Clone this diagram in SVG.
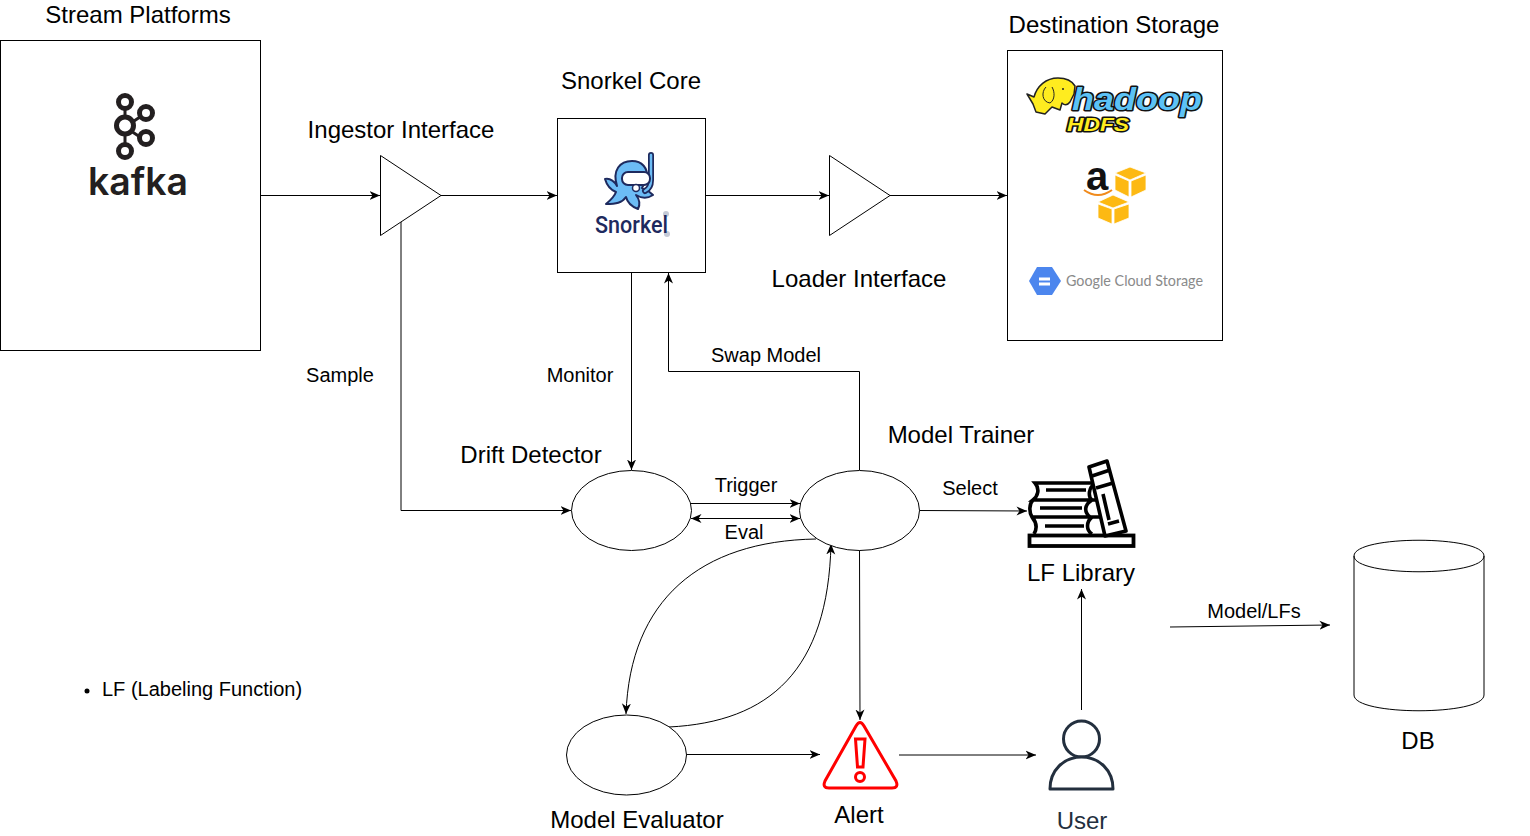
<svg xmlns="http://www.w3.org/2000/svg" width="1530" height="836" viewBox="0 0 1530 836">
<defs>
<style>
text{font-family:"Liberation Sans",Arial,sans-serif;fill:#000}
.t{font-size:24px;text-anchor:middle}
.s{font-size:20px;text-anchor:middle}
.n{fill:#fff;stroke:#000;stroke-width:1}
.c{fill:none;stroke:#000;stroke-width:1;marker-end:url(#a)}
</style>
<marker id="a" viewBox="0 0 11 11" refX="10.500" refY="5.500" markerWidth="11" markerHeight="11" markerUnits="userSpaceOnUse" orient="auto"><path d="M0 1 L10.500 5.500 L0 10 L3 5.500 Z" fill="#000"/></marker>
<marker id="as" viewBox="0 0 11 11" refX="10.500" refY="5.500" markerWidth="11" markerHeight="11" markerUnits="userSpaceOnUse" orient="auto-start-reverse"><path d="M0 1 L10.500 5.500 L0 10 L3 5.500 Z" fill="#000"/></marker>
</defs>
<rect width="1530" height="836" fill="#fff"/>

<g id="connectors">
<path class="c" d="M261 195.500H380"/>
<path class="c" d="M441 195.500H557"/>
<path class="c" d="M706 195.500H829"/>
<path class="c" d="M890 195.500H1007"/>
<path class="c" d="M401 222V510.500H571"/>
<path class="c" d="M631.500 273V470"/>
<path class="c" d="M859.500 470V371.500H668.500V273"/>
<path class="c" d="M691 503.500H800"/>
<path d="M691 518.500H800" fill="none" stroke="#000" stroke-width="1" marker-start="url(#as)" marker-end="url(#as)"/>
<path class="c" d="M919 510.500L1027 511"/>
<path class="c" d="M816 539C700 541 630 600 626 714"/>
<path class="c" d="M669 727C770 722 828 670 831 544"/>
<path class="c" d="M859.500 550L860 720"/>
<path class="c" d="M687 754.500L820 754.500"/>
<path class="c" d="M899 755H1036"/>
<path class="c" d="M1081.500 710V589"/>
<path class="c" d="M1170 627L1330 625"/>
</g>

<g id="stream-platforms">
<rect class="n" x="0.500" y="40.500" width="260" height="310"/>
<text class="t" x="138" y="23">Stream Platforms</text>
<g fill="#fff" stroke="#231f20" stroke-width="5">
<path d="M125 110V145M125 127L146 113M125 127L146 141" stroke-width="3"/>
<circle cx="125" cy="102" r="6.500"/>
<circle cx="146" cy="113" r="6.500"/>
<circle cx="125" cy="125.500" r="8.500"/>
<circle cx="146" cy="138" r="6.500"/>
<circle cx="125" cy="151" r="6.500"/>
</g>
<text x="138" y="195" text-anchor="middle" textLength="100" lengthAdjust="spacingAndGlyphs" style="font-family:Inter,'Liberation Sans',sans-serif;font-size:38px;font-weight:600;fill:#231f20">kafka</text>
</g>

<g id="ingestor-interface">
<path class="n" d="M380.500 155.500L441 195.500L380.500 235.500Z"/>
<text class="t" x="401" y="138">Ingestor Interface</text>
</g>

<g id="snorkel-core">
<rect class="n" x="557.500" y="118.500" width="148" height="154"/>
<text class="t" x="631" y="89">Snorkel Core</text>
<path d="M617 186C612 170 620 161 632 161C642 161 648 168 647 178L642 188C648 190 650 192 653 195C647 199 641 198 636 195C640 200 640 205 638 209C630 206 627 201 626 197C622 203 616 204 606 204C612 199 615 195 616 192C611 190 607 186 605 179C610 178 614 181 617 186Z" fill="#6cbcf5" stroke="#1e2a5e" stroke-width="2" stroke-linejoin="round"/>
<path d="M651 155V180Q651 188 645 191" fill="none" stroke="#1e2a5e" stroke-width="6" stroke-linecap="round"/>
<path d="M651 155V180Q651 188 645 191" fill="none" stroke="#6cbcf5" stroke-width="2.500" stroke-linecap="round"/>
<rect x="622" y="172" width="28" height="13" rx="6" fill="#fff" stroke="#1e2a5e" stroke-width="2"/>
<circle cx="636" cy="188" r="3.500" fill="#fff" stroke="#1e2a5e" stroke-width="1.500"/>
<circle cx="666" cy="214" r="3" fill="#c5cad6"/>
<circle cx="667" cy="234" r="3" fill="#c5cad6"/>
<text x="595" y="233" textLength="73" lengthAdjust="spacingAndGlyphs" style="font-family:Roboto,'Liberation Sans',sans-serif;font-size:23px;font-weight:500;fill:#1e2a5e">Snorkel</text>
</g>

<g id="loader-interface">
<path class="n" d="M829.500 155.500L890 195.500L829.500 235.500Z"/>
<text class="t" x="859" y="287">Loader Interface</text>
</g>

<g id="destination-storage">
<rect class="n" x="1007.500" y="50.500" width="215" height="290"/>
<text class="t" x="1114" y="33">Destination Storage</text>
<path d="M1033 104L1027 94L1034 97C1037 86 1046 78 1058 78C1066 78 1072 81 1075 86L1074 94L1070 102C1067 106 1064 105 1062 103L1060 110L1052 107L1045 114L1036 112Z" fill="#ffec1f" stroke="#222" stroke-width="1.500" stroke-linejoin="round"/>
<path d="M1046 87C1041 92 1042 102 1050 103C1055 100 1055 92 1052 87" fill="#ffec1f" stroke="#222" stroke-width="1"/>
<circle cx="1063" cy="89" r="1" fill="#222"/>
<text x="1072" y="110" textLength="130" lengthAdjust="spacingAndGlyphs" style="font-family:'Liberation Sans',sans-serif;font-size:32px;font-weight:700;font-style:italic;fill:#5cc2f5;stroke:#111;stroke-width:3px;paint-order:stroke;stroke-linejoin:round">hadoop</text>
<text x="1067" y="131" textLength="62" lengthAdjust="spacingAndGlyphs" style="font-family:'Liberation Sans',sans-serif;font-size:18px;font-weight:700;font-style:italic;fill:#ffec1f;stroke:#111;stroke-width:3px;paint-order:stroke;stroke-linejoin:round">HDFS</text>
<text x="1097" y="190" text-anchor="middle" style="font-family:'Liberation Sans',sans-serif;font-size:40px;font-weight:700;fill:#111">a</text>
<path d="M1084 190Q1098 200 1112 190" fill="none" stroke="#f08a1c" stroke-width="2"/>
<g stroke="#fff" stroke-width="0.800" fill="#fdb913">
<path d="M1115 173L1130 167L1146 173L1130 180Z"/>
<path d="M1115 175L1129 181V197L1115 190Z"/>
<path d="M1131 181L1146 175V190L1131 197Z"/>
<path d="M1098 202L1113 195L1129 202L1113 208Z"/>
<path d="M1098 204L1112 209V224L1098 218Z"/>
<path d="M1114 209L1129 204V218L1114 224Z"/>
</g>
<path d="M1029 281L1037 267H1052L1061 281L1052 295H1037Z" fill="#4c86ee"/>
<rect x="1039" y="277.500" width="11" height="3" fill="#fff"/>
<rect x="1039" y="282.500" width="11" height="3" fill="#fff"/>
<text x="1066" y="286" textLength="137" lengthAdjust="spacingAndGlyphs" style="font-family:Lato,'Liberation Sans',sans-serif;font-size:15px;fill:#8a8a8a">Google Cloud Storage</text>
</g>

<g id="drift-detector">
<ellipse class="n" cx="631.500" cy="510.500" rx="60" ry="40"/>
<text class="t" x="531" y="463">Drift Detector</text>
</g>

<g id="model-trainer">
<ellipse class="n" cx="859.500" cy="510.500" rx="60" ry="40"/>
<text class="t" x="961" y="443">Model Trainer</text>
</g>

<g id="model-evaluator">
<ellipse class="n" cx="626.500" cy="755" rx="60" ry="40"/>
<text class="t" x="637" y="828">Model Evaluator</text>
</g>

<g id="lf-library">
<path d="M1096 483H1035C1040 489 1038 496 1033 500H1097M1033 500C1029 504 1029 512 1032 517H1100M1032 517C1037 523 1037 529 1034 534M1096 483C1088 487 1088 497 1092 500M1092 500C1084 505 1084 512 1090 517M1092 517C1086 522 1086 530 1092 534" fill="#fff" stroke="#000" stroke-width="3.600"/>
<rect x="1029.500" y="535.500" width="104" height="10.500" fill="#fff" stroke="#000" stroke-width="3.800"/>
<path d="M1089 467L1107 461L1126 531L1105 536Z" fill="#fff" stroke="#000" stroke-width="3.600" stroke-linejoin="round"/>
<path d="M1046 490H1086M1040 508H1082M1045 526H1084M1092 476L1110 470M1096 488L1113 483M1103 494L1109 520M1108 524L1119 521" fill="none" stroke="#000" stroke-width="3.600"/>
<text class="t" x="1081" y="581">LF Library</text>
</g>

<g id="alert">
<path d="M860 722.500Q862 722.500 864 726L896 781Q899 788 892 788H829Q822 788 825 781L856 726Q858 722.500 860 722.500Z" fill="#fff" stroke="#ff0000" stroke-width="3"/>
<path d="M855.500 739H865L863 767H857.500Z" fill="#fff" stroke="#ff0000" stroke-width="3"/>
<circle cx="860" cy="777" r="4.500" fill="#fff" stroke="#ff0000" stroke-width="3"/>
<text class="t" x="859" y="823">Alert</text>
</g>

<g id="user">
<circle cx="1081.500" cy="739" r="18" fill="#fff" stroke="#232f3e" stroke-width="3"/>
<path d="M1050 789C1050 770 1064 757 1081.500 757C1099 757 1113 770 1113 789Z" fill="#fff" stroke="#232f3e" stroke-width="3" stroke-linejoin="round"/>
<text class="t" x="1082" y="829" style="fill:#232f3e">User</text>
</g>

<g id="db">
<path class="n" d="M1354 556C1354 535 1484 535 1484 556V695C1484 716 1354 716 1354 695Z"/>
<path d="M1354 556C1354 577 1484 577 1484 556" fill="none" stroke="#000"/>
<text class="t" x="1418" y="749">DB</text>
</g>

<g id="labels">
<text class="s" x="340" y="382">Sample</text>
<text class="s" x="580" y="382">Monitor</text>
<text class="s" x="766" y="362">Swap Model</text>
<text class="s" x="746" y="492">Trigger</text>
<text class="s" x="744" y="539">Eval</text>
<text class="s" x="970" y="495">Select</text>
<text class="s" x="1254" y="618">Model/LFs</text>
<circle cx="87" cy="691" r="2.500" fill="#000"/>
<text x="102" y="696" style="font-size:20px">LF (Labeling Function)</text>
</g>
</svg>
